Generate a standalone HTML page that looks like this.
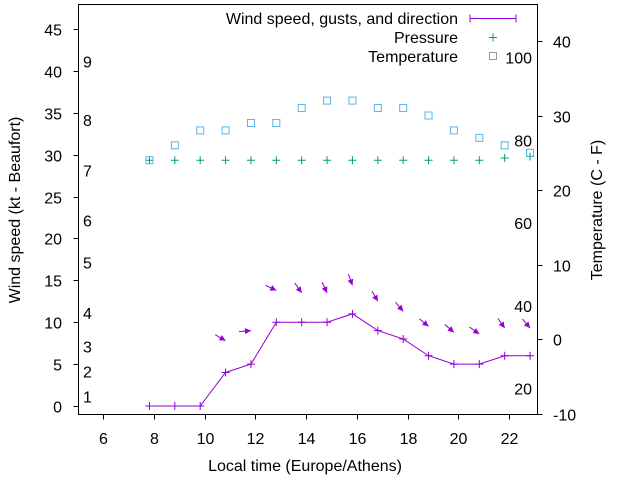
<!DOCTYPE html>
<html><head><meta charset="utf-8"><style>
body{margin:0;background:#fff;}
svg{display:block;font-family:"Liberation Sans",sans-serif;font-size:16px;}
</style></head><body>
<svg id="chart" width="640" height="480"></svg>
<script>
const hours=[7.83,8.83,9.83,10.83,11.83,12.83,13.83,14.83,15.83,16.83,17.83,18.83,19.83,20.83,21.83,22.83];
const windSpeed=[0,0,0,4,5,10,10,10,11,9,8,6,5,5,6,6];
const gusts=[null,null,null,7.8,9,13.8,13.5,13.5,14.4,12.5,11.3,9.5,8.8,8.6,9.3,9.3];
const windDir=[null,null,null,300,265,295,325,335,340,330,320,310,310,305,325,320];
const pressure=[24,24,24,24,24,24,24,24,24,24,24,24,24,24,24.3,24.5];
const temperature=[24,26,28,28,29,29,31,32,32,31,31,30,28,27,26,25];
const xTicks=[6,8,10,12,14,16,18,20,22];
const yTicks=[0,5,10,15,20,25,30,35,40,45];
const y2Ticks=[-10,0,10,20,30,40];
const beaufort=[[1,1],[2,4],[3,7],[4,11],[5,17],[6,22],[7,28],[8,34],[9,41]];
const fahrenheit=[20,40,60,80,100];

const L=78.5,R=537.5,T=4.5,B=414.5;
const X=h=>103+(h-6)*25.375;
const Y=v=>406-v*8.378;
const Y2=c=>339-c*7.45;
const NS='http://www.w3.org/2000/svg';
const svg=document.getElementById('chart');
function mk(tag,attrs,parent){const e=document.createElementNS(NS,tag);for(const k in attrs)e.setAttribute(k,attrs[k]);(parent||svg).appendChild(e);return e;}
function txt(s,x,y,anchor,name){const t=mk('text',{x:x,y:y,'text-anchor':anchor||'middle',fill:'#000'});t.textContent=s;


return t;}

const frame=mk('rect',{x:L,y:T,width:R-L,height:B-T,fill:'none',stroke:'#000','stroke-width':1});



xTicks.forEach(h=>{const x=Math.round(X(h))+0.5;
 const l=mk('line',{x1:x,x2:x,y1:B,y2:B+5,stroke:'#000'});
 
 
 txt(String(h),x,444,'middle','x-tick-label');});
yTicks.forEach(v=>{const y=Math.round(Y(v))+0.5;
 const l=mk('line',{x1:L-5,x2:L,y1:y,y2:y,stroke:'#000'});
 
 
 txt(String(v),62,y+6,'end','y-tick-label');});
y2Ticks.forEach(v=>{const y=Math.round(Y2(v))+0.5;
 const l=mk('line',{x1:R,x2:R+5,y1:y,y2:y,stroke:'#000'});
 
 
 txt(String(v),553,y+6,'start','y2-tick-label');});
beaufort.forEach(b=>{txt(String(b[0]),83,Y(b[1])+5,'start','beaufort-label');});
fahrenheit.forEach(f=>{txt(String(f),532,Y2((f-32)*5/9)+6,'end','fahrenheit-label');});

txt('Local time (Europe/Athens)',305,471,'middle','x-axis-title');
const yl=txt('Wind speed (kt - Beaufort)',0,0,'middle','y-axis-title');
yl.setAttribute('transform','translate(20,210) rotate(-90)');
const y2l=txt('Temperature (C - F)',0,0,'middle','y2-axis-title');
y2l.setAttribute('transform','translate(602,210) rotate(-90)');

const wc='#9400d3';
const pl=mk('polyline',{points:hours.map((h,i)=>X(h)+','+Y(windSpeed[i])).join(' '),fill:'none',stroke:wc,'stroke-width':1});


hours.forEach((h,i)=>{const x=X(h),y=Y(windSpeed[i]);
 const p=mk('path',{d:`M${x-4},${y}H${x+4}M${x},${y-4}V${y+4}`,stroke:wc});
 
 });
hours.forEach((h,i)=>{if(gusts[i]==null)return;const d=windDir[i]*Math.PI/180;
 const vx=-Math.sin(d),vy=Math.cos(d);const hx=X(h),hy=Y(gusts[i]);const len=12;
 const sx=hx-vx*len,sy=hy-vy*len;const px=-vy,py=vx;
 const g=mk('g',{});
 
 
 mk('line',{x1:sx,y1:sy,x2:hx,y2:hy,stroke:wc,'stroke-width':1},g);
 mk('polygon',{points:`${hx},${hy} ${hx-vx*6+px*3},${hy-vy*6+py*3} ${hx-vx*6-px*3},${hy-vy*6-py*3}`,fill:wc},g);});
const pc='#009e73';
hours.forEach((h,i)=>{const x=X(h),y=Y2(pressure[i]);
 const p=mk('path',{d:`M${x-4},${y}H${x+4}M${x},${y-4}V${y+4}`,stroke:pc});
 
 });
const tc='#56b4e9';
hours.forEach((h,i)=>{const x=X(h),y=Y2(temperature[i]);
 const r=mk('rect',{x:x-3.5,y:y-3.5,width:7,height:7,fill:'none',stroke:tc});
 
 });

txt('Wind speed, gusts, and direction',458,24,'end','legend-wind-label');
const lw=mk('path',{d:'M470,18.5H516M470,14.5V22.5M516,14.5V22.5',stroke:wc});


txt('Pressure',458,43,'end','legend-pressure-label');
const lp=mk('path',{d:'M489,37.5H497M493,33.5V41.5',stroke:pc});


txt('Temperature',458,62,'end','legend-temperature-label');
const lt=mk('rect',{x:489.5,y:52.5,width:7,height:7,fill:'none',stroke:'#999'});


</script>
</body></html>
